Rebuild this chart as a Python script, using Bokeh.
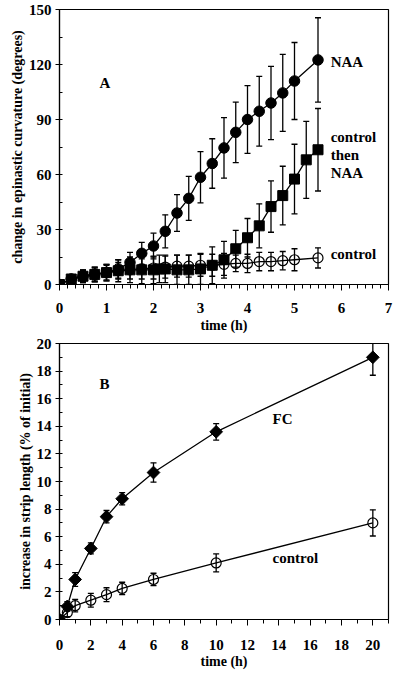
import math
from bokeh.plotting import figure
from bokeh.layouts import column
from bokeh.models import ColumnDataSource, Whisker, TeeHead, FixedTicker, Range1d
from bokeh.core.properties import value
from bokeh.embed import file_html
from bokeh.resources import INLINE

FONT = "'Liberation Serif', 'Times New Roman', Times, serif"
FS_TICK = "15px"
FS_AXIS = "14px"
FS_NOTE = "15px"

# ---------------- Panel A data ----------------
t_naa = [0, 0.25, 0.5, 0.75, 1, 1.25, 1.5, 1.75, 2, 2.25, 2.5, 2.75, 3, 3.25, 3.5,
         3.75, 4, 4.25, 4.5, 4.75, 5, 5.5]
naa = [0, 3, 4.5, 5.5, 6.5, 8.5, 12, 17, 21, 29, 39, 47, 58.5, 66, 74.5,
       83, 90, 94.5, 99, 104.5, 111, 122.5]
naa_err = [0, 2, 3.5, 4, 4.5, 5, 5.5, 6, 7, 9, 10, 12, 14, 13.5, 16.5,
           16.5, 18.5, 19, 20, 21, 21, 23]

t_cn = [0, 0.25, 0.5, 0.75, 1, 1.25, 1.5, 1.75, 2, 2.125, 2.25, 2.5, 2.75, 3, 3.25,
        3.5, 3.75, 4, 4.25, 4.5, 4.75, 5, 5.25, 5.5]
cn = [0, 3, 4.5, 5.5, 6.5, 7.5, 8, 8, 8, 8.5, 8.5, 8, 8, 8.5, 10.5,
      13.5, 19.5, 25.5, 32, 42.5, 48.5, 57.5, 68, 73.5]
cn_err = [0, 2, 3.5, 4, 4.5, 6, 7, 7.5, 7.5, 7.5, 7.5, 8, 8, 8.5, 10,
          10, 10, 10.5, 12, 14, 16, 19, 21, 22.5]

t_ctl = [0, 0.25, 0.5, 0.75, 1, 1.25, 1.5, 1.75, 2, 2.25, 2.5, 2.75, 3, 3.25, 3.5,
         3.75, 4, 4.25, 4.5, 4.75, 5, 5.5]
ctl = [0, 3, 4.5, 5.5, 6.5, 7.5, 8, 8.5, 9, 9.5, 10, 10, 10.5, 10.5, 11,
       11.5, 11.5, 12.5, 12.5, 13, 13.5, 14.5]
ctl_err = [0, 2, 3, 3.5, 4, 4.5, 5, 5.5, 6, 6, 6, 6, 6, 6, 6,
           4.5, 5, 5, 5, 5, 6, 5.5]

a_xticks = [0, 1, 2, 3, 4, 5, 6, 7]
a_yticks = [0, 30, 60, 90, 120, 150]

# ---------------- Panel B data ----------------
t_b = [0, 0.5, 1, 2, 3, 4, 6, 10, 20]
fc = [0, 0.95, 2.9, 5.15, 7.45, 8.75, 10.65, 13.6, 19.0]
fc_err = [0, 0.35, 0.5, 0.4, 0.45, 0.45, 0.7, 0.6, 1.3]
ctl_b = [0, 0.5, 1.0, 1.4, 1.8, 2.25, 2.9, 4.1, 7.0]
ctl_b_err = [0, 0.3, 0.45, 0.5, 0.5, 0.45, 0.45, 0.65, 0.95]

b_xticks = [0, 2, 4, 6, 8, 10, 12, 14, 16, 18, 20]
b_yticks = [0, 2, 4, 6, 8, 10, 12, 14, 16, 18, 20]


def style(p, xlabel, ylabel, lab_standoff, ax_standoff):
    p.outline_line_color = "black"
    p.outline_line_width = 1.2
    p.grid.visible = False
    for ax in (p.xaxis[0], p.yaxis[0]):
        ax.axis_line_color = "black"
        ax.axis_line_width = 1.2
        ax.major_tick_line_color = "black"
        ax.minor_tick_line_color = "black"
        ax.major_label_text_font = FONT
        ax.major_label_text_font_style = "bold"
        ax.major_label_text_font_size = FS_TICK
        ax.major_label_text_color = "black"
        ax.axis_label_text_font = FONT
        ax.axis_label_text_font_style = "bold"
        ax.axis_label_text_font_size = FS_AXIS
        ax.axis_label_text_color = "black"
    p.xaxis.axis_label = xlabel
    p.yaxis.axis_label = ylabel
    p.xaxis.major_tick_in = 0
    p.xaxis.major_tick_out = 6
    p.xaxis.minor_tick_in = 0
    p.xaxis.minor_tick_out = 4
    p.xaxis.major_label_standoff = lab_standoff
    p.xaxis.axis_label_standoff = ax_standoff
    p.yaxis.major_tick_in = 0
    p.yaxis.major_tick_out = 4
    p.yaxis.minor_tick_in = 3
    p.yaxis.minor_tick_out = 0
    p.yaxis.major_label_standoff = 4
    p.yaxis.axis_label_standoff = 1


def errbars(p, x, y, e):
    xs = [a for a, d in zip(x, e) if d > 0]
    up = [b + d for b, d in zip(y, e) if d > 0]
    lo = [b - d for b, d in zip(y, e) if d > 0]
    src = ColumnDataSource(dict(x=xs, upper=up, lower=lo))
    w = Whisker(base="x", upper="upper", lower="lower", source=src,
                line_color="black", line_width=1.3,
                upper_head=TeeHead(size=6, line_color="black", line_width=1.3),
                lower_head=TeeHead(size=6, line_color="black", line_width=1.3))
    p.add_layout(w)


# ---------------- Panel A ----------------
pa = figure(width=400, height=337, output_backend="svg", toolbar_location=None,
            x_range=Range1d(0, 7), y_range=Range1d(0, 150),
            min_border_left=59, min_border_right=12, min_border_top=9,
            min_border_bottom=53)
style(pa, "time (h)", "change in epinastic curvature (degrees)", 12, 2)
pa.xaxis.ticker = FixedTicker(ticks=a_xticks, minor_ticks=[i / 6 for i in range(43)])
pa.yaxis.ticker = FixedTicker(ticks=a_yticks, minor_ticks=[15 * i for i in range(11)])

errbars(pa, t_ctl, ctl, ctl_err)
errbars(pa, t_cn, cn, cn_err)
errbars(pa, t_naa, naa, naa_err)

pa.line(t_ctl, ctl, line_color="black", line_width=1.3)
pa.line(t_cn, cn, line_color="black", line_width=1.3)
pa.line(t_naa, naa, line_color="black", line_width=1.3)

pa.scatter(t_ctl, ctl, marker="circle", size=10, fill_color=None,
           line_color="black", line_width=1.2)
pa.scatter(t_cn, cn, marker="square", size=10, fill_color="black",
           line_color="black")
pa.scatter(t_naa, naa, marker="circle", size=10.5, fill_color="black",
           line_color="black")

a_lab_x = [0.85, 5.77, 5.77, 5.77, 5.77, 5.77]
a_lab_y = [110, 121.6, 80.3, 70.7, 61, 16.7]
a_lab_t = ["A", "NAA", "control", "then", "NAA", "control"]
pa.text(a_lab_x, a_lab_y, text=a_lab_t, text_font=value(FONT),
        text_font_style="bold", text_font_size=FS_NOTE, text_color="black",
        text_baseline="middle", text_align="left")

# ---------------- Panel B ----------------
pb = figure(width=400, height=337, output_backend="svg", toolbar_location=None,
            x_range=Range1d(0, 21), y_range=Range1d(0, 20),
            min_border_left=59, min_border_right=10, min_border_top=6,
            min_border_bottom=55)
style(pb, "time (h)", "increase in strip length (% of initial)", 14, 1)
pb.xaxis.ticker = FixedTicker(ticks=b_xticks, minor_ticks=list(range(22)))
pb.yaxis.ticker = FixedTicker(ticks=b_yticks, minor_ticks=list(range(21)))

errbars(pb, t_b, ctl_b, ctl_b_err)
errbars(pb, t_b, fc, fc_err)

pb.line(t_b, ctl_b, line_color="black", line_width=1.3)
pb.line(t_b, fc, line_color="black", line_width=1.3)

pb.scatter(t_b, ctl_b, marker="circle", size=10, fill_color=None,
           line_color="black", line_width=1.2)
pb.scatter(t_b, fc, marker="square", size=9, angle=math.pi / 4,
           fill_color="black", line_color="black")

b_lab_x = [2.55, 13.6, 13.6]
b_lab_y = [17.1, 14.5, 4.45]
b_lab_t = ["B", "FC", "control"]
pb.text(b_lab_x, b_lab_y, text=b_lab_t, text_font=value(FONT),
        text_font_style="bold", text_font_size=FS_NOTE, text_color="black",
        text_baseline="middle", text_align="left")

layout = column(pa, pb, spacing=0)
open("out.html", "w").write(file_html(layout, INLINE))
